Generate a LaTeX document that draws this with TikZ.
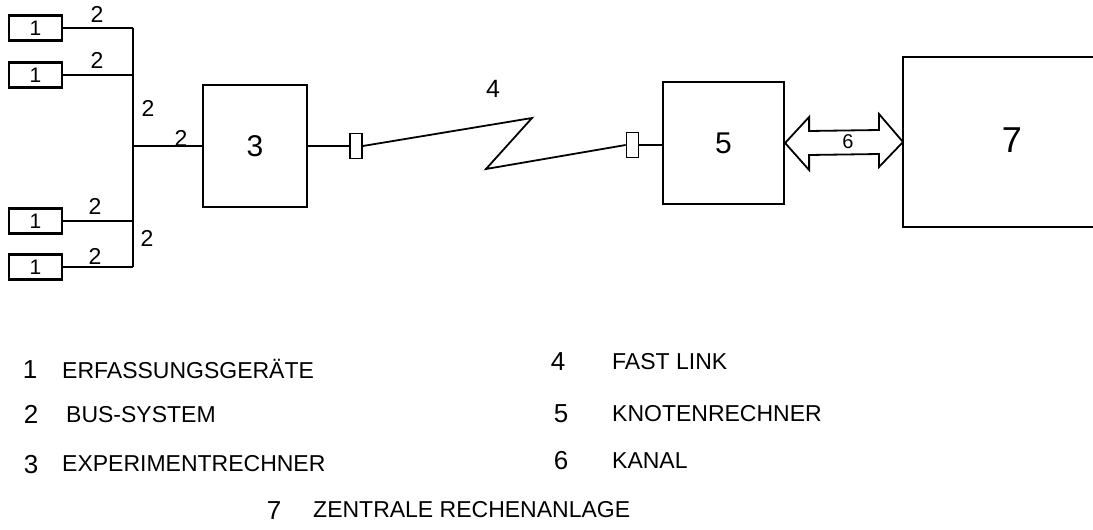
\documentclass[tikz,border=0pt]{standalone}
\usepackage{fontspec}
\setmainfont{Liberation Sans}
\usetikzlibrary{calc}
\begin{document}
\begin{tikzpicture}[x=1pt,y=-1pt,
  ln/.style={line width=2.2pt},
  blk/.style={draw,line width=2.2pt,inner sep=0pt},
  dev/.style={blk,minimum width=53pt,minimum height=25pt,font=\fontsize{21}{21}\selectfont},
  plug/.style={draw,line width=1.7pt,inner sep=0pt,minimum width=12pt,minimum height=25pt},
  lab/.style={inner sep=0pt,font=\fontsize{23}{23}\selectfont},
  leg/.style={inner sep=0pt,anchor=base west,font=\fontsize{23}{23}\selectfont},
  legn/.style={inner sep=0pt,anchor=base,font=\fontsize{26}{26}\selectfont}]
\useasboundingbox (0,0) rectangle (1093,530);
% devices
\node[dev] (d1) at (35.5,28) {1};
\node[dev] (d2) at (35.5,75) {1};
\node[dev] (d3) at (35.5,221) {1};
\node[dev] (d4) at (35.5,267) {1};
% bus
\coordinate (j1) at (133,28);
\coordinate (j2) at (133,75);
\coordinate (jm) at (133,146);
\coordinate (j3) at (133,221);
\coordinate (j4) at (133,267);
\draw[ln] (j1) -- (j4);
\draw[ln] (d1) -- (j1);
\draw[ln] (d2) -- (j2);
\draw[ln] (d3) -- (j3);
\draw[ln] (d4) -- (j4);
% experiment computer
\node[blk,minimum width=104pt,minimum height=122pt,font=\fontsize{30}{30}\selectfont] (b3) at (255,146) {3};
\draw[ln] (jm) -- (b3);
\node[lab] at (97,14) {2};
\node[lab] at (97,60) {2};
\node[lab] at (148,108) {2};
\node[lab] at (181,138) {2};
\node[lab] at (95,206) {2};
\node[lab] at (147,238) {2};
\node[lab] at (95,256) {2};
% fast link
\node[plug] (c1) at (356,146) {};
\node[plug] (c2) at (632.5,145) {};
\node[blk,minimum width=121pt,minimum height=122pt,font=\fontsize{30}{30}\selectfont] (b5) at (723.5,143) {5};
\draw[ln] (b3.east |- c1) -- (c1);
\draw[ln] (c2) -- (c2 -| b5.west);
\coordinate (z1) at (532,118);
\coordinate (z2) at (486,169);
\draw[line width=1.8pt,line join=miter] (c1.east) -- (z1) -- (z2) -- (c2.west);
\node[inner sep=0pt,font=\fontsize{25}{25}\selectfont] at (493,89) {4};
% central computer
\node[inner sep=0pt,minimum width=200pt,minimum height=170pt,anchor=west] (b7) at (903,142) {};
\draw[blk] ($(b7.north west)+(200,0)$) -- (b7.north west) -- (b7.south west) -- ($(b7.south west)+(200,0)$);
\node[inner sep=0pt,font=\fontsize{36}{36}\selectfont] at (1012,140) {7};
% channel (double arrow)
\coordinate (aL) at (b5.east);
\coordinate (aR) at (b7.west);
\draw[line width=1.8pt,line join=miter]
  (aL) -- ($(aL)+(24,-26)$) -- ($(aL)+(24,-12)$) -- ($(aR)+(-24,-12)$) -- ($(aR)+(-24,-28)$)
  -- (aR) -- ($(aR)+(-24,25)$) -- ($(aR)+(-24,12)$) -- ($(aL)+(24,12)$) -- ($(aL)+(24,27)$) -- cycle;
\node[inner sep=0pt,font=\fontsize{20}{20}\selectfont] at (848,142) {6};
% legend
\node[legn] at (30,378) {1};
\node[leg] at (62,378) {ERFASSUNGSGERÄTE};
\node[legn] at (31,423) {2};
\node[leg] at (66,422) {BUS-SYSTEM};
\node[legn] at (31,473) {3};
\node[leg] at (62,471) {EXPERIMENTRECHNER};
\node[legn] at (558,370) {4};
\node[leg] at (612,369) {FAST LINK};
\node[legn] at (561,422) {5};
\node[leg] at (612,421) {KNOTENRECHNER};
\node[legn] at (561,469) {6};
\node[leg] at (612,468) {KANAL};
\node[legn] at (274,519) {7};
\node[leg] at (313,517) {ZENTRALE RECHENANLAGE};
\end{tikzpicture}
\end{document}
